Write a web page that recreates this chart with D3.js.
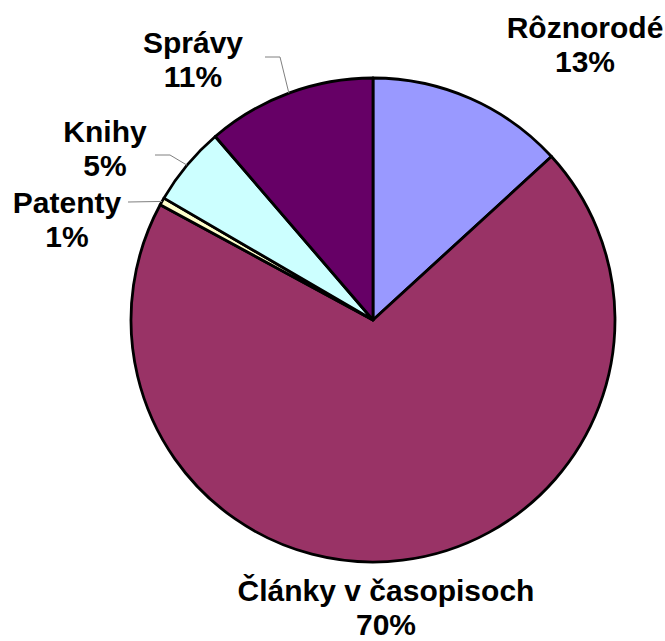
<!DOCTYPE html>
<html>
<head>
<meta charset="utf-8">
<script src="https://cdn.jsdelivr.net/npm/d3@7"></script>
<style>
  body { margin: 0; background: #fff; }
  text { font-family: "Liberation Sans", Arial, sans-serif; font-weight: bold; font-size: 30px; fill: #000; }
</style>
</head>
<body>
<svg id="chart" width="665" height="641"></svg>
<script>
// data, clockwise from 12 o'clock
const categories = ["Rôznorodé", "Články v časopisoch", "Patenty", "Knihy", "Správy"];
const values = [13.2, 69.7, 0.5, 5.3, 11.3];
const colors = ["#9999FF", "#993366", "#FFFFCC", "#CCFFFF", "#660066"];

// label layout (center x, first baseline) and leader elbows
const labelPos = [[585, 38], [386, 601], [67, 213], [105, 142], [193, 53]];
const leaders = [null, null, [[128, 202]], [[155, 155], [170, 155]], [[265, 57], [280, 57]]];

const width = 665, height = 641;
const cx = 373, cy = 320, r = 242;

const svg = d3.select("#chart");
const g = svg.append("g").attr("transform", `translate(${cx},${cy})`);

const pie = d3.pie().sort(null).value(d => d)(values);
const total = d3.sum(values);
const arc = d3.arc().innerRadius(0).outerRadius(r);
const edge = d3.arc().innerRadius(r).outerRadius(r);

g.selectAll("path.slice")
  .data(pie)
  .enter().append("path")
  .attr("class", "slice")
  .attr("d", arc)
  .attr("fill", (d, i) => colors[i])
  .attr("stroke", "#000")
  .attr("stroke-width", 2.8)
  .attr("stroke-linejoin", "round");

// leader lines
pie.forEach((d, i) => {
  if (!leaders[i]) return;
  const c = edge.centroid(d);
  const pts = leaders[i].map(p => [p[0], p[1]]);
  pts.push([c[0] + cx, c[1] + cy]);
  svg.append("path")
    .attr("d", d3.line()(pts))
    .attr("fill", "none")
    .attr("stroke", "#808080")
    .attr("stroke-width", 1);
});

// labels
categories.forEach((name, i) => {
  const t = svg.append("text")
    .attr("x", labelPos[i][0])
    .attr("y", labelPos[i][1])
    .attr("text-anchor", "middle");
  t.append("tspan").attr("x", labelPos[i][0]).text(name);
  t.append("tspan").attr("x", labelPos[i][0]).attr("dy", 34)
    .text(Math.round(values[i] / total * 100) + "%");
});
</script>
</body>
</html>
